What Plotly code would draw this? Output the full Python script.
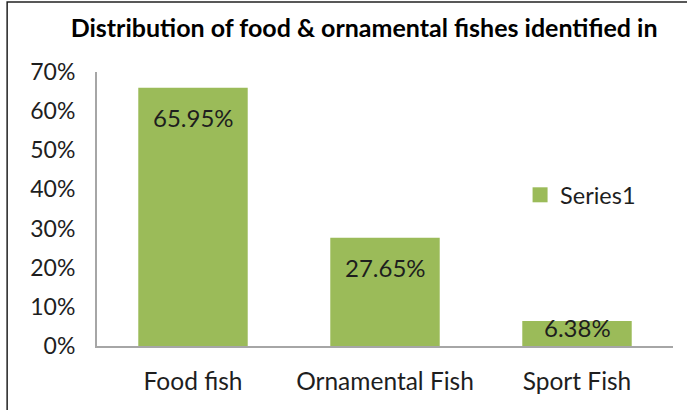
import plotly.graph_objects as go

# Fish categories and their share of identified species
categories = ["Food fish", "Ornamental Fish", "Sport Fish"]
shares = [0.6595, 0.2765, 0.0638]
y_ticks = [0, 0.1, 0.2, 0.3, 0.4, 0.5, 0.6, 0.7]
y_tick_labels = ["0%", "10%", "20%", "30%", "40%", "50%", "60%", "70%"]

# Distance (px) of each value label's centre below its bar top
label_drop_px = [30, 30, 6]

BAR_GREEN = "#9BBB59"
TEXT = "#1e1e1e"
AXIS_GRAY = "#a6a6a6"
FONT = "Lato, 'Open Sans', sans-serif"

fig = go.Figure()
fig.add_trace(go.Bar(
    x=categories,
    y=shares,
    name="Series1",
    marker=dict(color=BAR_GREEN, line=dict(width=0)),
    showlegend=False,
    hovertemplate="%{x}: %{y:.2%}<extra></extra>",
))

# Legend entry with a larger square swatch for the bar series
fig.add_trace(go.Scatter(
    x=[None], y=[None],
    mode="markers",
    name="Series1",
    marker=dict(symbol="square", size=15, color=BAR_GREEN),
    showlegend=True,
    hoverinfo="skip",
))

# Value labels anchored to each bar's value
for cat, val, drop in zip(categories, shares, label_drop_px):
    fig.add_annotation(
        x=cat, y=val, xref="x", yref="y",
        text=f"{val:.2%}",
        showarrow=False,
        yanchor="middle", yshift=-drop,
        font=dict(family=FONT, size=24, color=TEXT),
    )

fig.update_layout(
    width=687,
    height=410,
    margin=dict(l=97, r=14, t=72, b=64),
    paper_bgcolor="white",
    plot_bgcolor="white",
    font=dict(family=FONT, color=TEXT),
    bargap=0.43,
    title=dict(
        text="<b>Distribution of food &amp; ornamental fishes identified in</b>",
        x=0.53, xanchor="center", xref="container",
        y=0.932, yanchor="middle", yref="container",
        font=dict(family=FONT, size=25, color="#000000"),
    ),
    xaxis=dict(
        showline=True, linecolor=AXIS_GRAY, linewidth=2,
        showgrid=False, ticks="",
        tickfont=dict(family=FONT, size=24.5, color=TEXT),
        ticklabelstandoff=13,
    ),
    yaxis=dict(
        range=[0, 0.7],
        tickvals=y_ticks, ticktext=y_tick_labels,
        showline=True, linecolor=AXIS_GRAY, linewidth=2,
        showgrid=False, zeroline=False, ticks="",
        tickfont=dict(family=FONT, size=23, color=TEXT),
        ticklabelstandoff=15,
    ),
    legend=dict(
        x=0.7345, xanchor="left", y=0.551, yanchor="middle",
        font=dict(family=FONT, size=23.5, color=TEXT),
        bgcolor="rgba(0,0,0,0)",
    ),
    shapes=[dict(
        type="rect", xref="paper", yref="paper",
        x0=-0.156, x1=1.2, y0=-0.4, y1=1.2555,
        line=dict(color="#222222", width=1.5),
        fillcolor="rgba(0,0,0,0)", layer="below",
    )],
)

fig.write_html("out.html")
